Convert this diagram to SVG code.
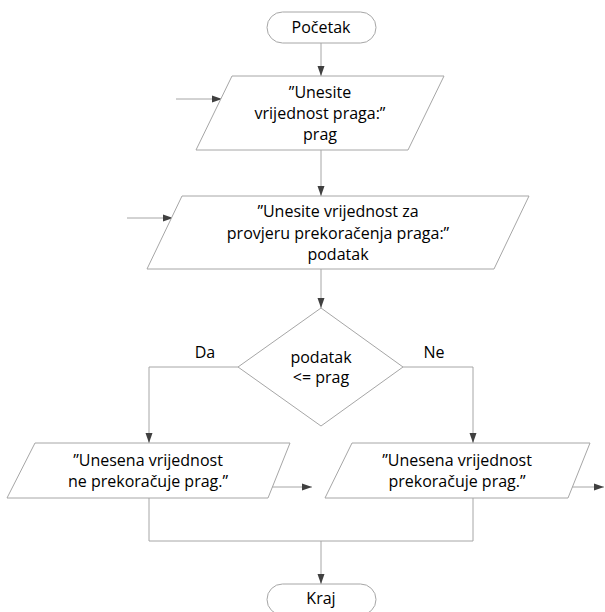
<svg xmlns="http://www.w3.org/2000/svg" width="605" height="612" viewBox="0 0 605 612">
  <style>
    .shape { fill: #ffffff; stroke: #a6a6a6; stroke-width: 1; }
    .conn { fill: none; stroke: #a6a6a6; stroke-width: 1; }
    .lbl { font-family: "Open Sans", "Noto Sans", sans-serif; font-size: 16px; fill: #000000; text-anchor: middle; }
  </style>
  <defs>
    <marker id="arrow" viewBox="0 0 10 8" refX="10" refY="4" markerWidth="10" markerHeight="8" markerUnits="userSpaceOnUse" orient="auto">
      <path d="M0,0.5 L10,4 L0,7.5 Z" fill="#404040"/>
    </marker>
  </defs>
  <rect width="605" height="612" fill="#ffffff"/>

  <g id="connectors">
    <path class="conn" d="M321,43 V76" marker-end="url(#arrow)"/>
    <path class="conn" d="M176,99 H222" marker-end="url(#arrow)"/>
    <path class="conn" d="M321,150 V196" marker-end="url(#arrow)"/>
    <path class="conn" d="M127,218 H173" marker-end="url(#arrow)"/>
    <path class="conn" d="M321,269 V308" marker-end="url(#arrow)"/>
    <path class="conn" d="M238,367 H149 V443" marker-end="url(#arrow)"/>
    <path class="conn" d="M403,367 H473 V443" marker-end="url(#arrow)"/>
    <path class="conn" d="M272,487 H312" marker-end="url(#arrow)"/>
    <path class="conn" d="M572,487 H604" marker-end="url(#arrow)"/>
    <path class="conn" d="M149,498 V541 H473 V498"/>
    <path class="conn" d="M321,541 V584" marker-end="url(#arrow)"/>
  </g>

  <g id="start">
    <rect class="shape" x="267" y="12" width="109" height="31" rx="15.5"/>
    <text class="lbl" x="321" y="33">Početak</text>
  </g>

  <g id="input-prag">
    <polygon class="shape" points="232,76 444,76 408,150 196,150"/>
    <text class="lbl" x="320" y="98">”Unesite</text>
    <text class="lbl" x="320" y="119">vrijednost praga:”</text>
    <text class="lbl" x="320" y="140">prag</text>
  </g>

  <g id="input-podatak">
    <polygon class="shape" points="182,196 529,196 494,269 147,269"/>
    <text class="lbl" x="338" y="217">”Unesite vrijednost za</text>
    <text class="lbl" x="338" y="238.5">provjeru prekoračenja praga:”</text>
    <text class="lbl" x="338" y="260">podatak</text>
  </g>

  <g id="decision">
    <polygon class="shape" points="321,308 403,367 321,426 238,367"/>
    <text class="lbl" x="321" y="363">podatak</text>
    <text class="lbl" x="321" y="383">&lt;= prag</text>
  </g>

  <g id="label-da">
    <text class="lbl" x="205" y="358">Da</text>
  </g>
  <g id="label-ne">
    <text class="lbl" x="434" y="358">Ne</text>
  </g>

  <g id="output-ne-prekoracuje">
    <polygon class="shape" points="35,443 290,443 268,498 7,498"/>
    <text class="lbl" x="148" y="466">”Unesena vrijednost</text>
    <text class="lbl" x="148" y="487">ne prekoračuje prag.”</text>
  </g>

  <g id="output-prekoracuje">
    <polygon class="shape" points="352,443 590,443 568,498 325,498"/>
    <text class="lbl" x="457" y="466">”Unesena vrijednost</text>
    <text class="lbl" x="457" y="487">prekoračuje prag.”</text>
  </g>

  <g id="end">
    <rect class="shape" x="267" y="584" width="109" height="31" rx="15.5"/>
    <text class="lbl" x="321" y="604">Kraj</text>
  </g>
</svg>
